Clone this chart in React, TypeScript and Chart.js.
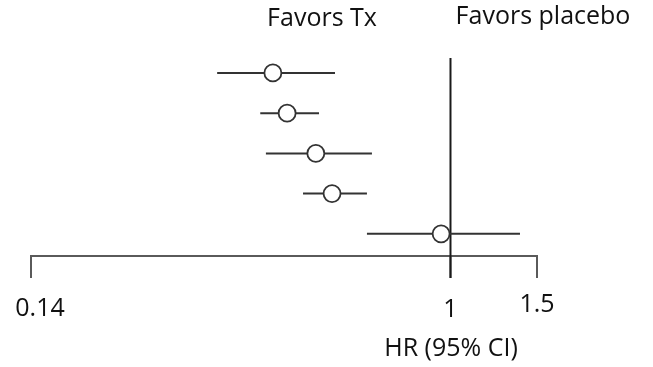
import React, { useEffect, useRef } from "react";
import { Chart, registerables } from "chart.js";

Chart.register(...registerables);

const rows = [1, 2, 3, 4, 5];
const hrEstimate = [0.435, 0.465, 0.532, 0.574, 0.957];
const ciLower = [0.335, 0.41, 0.421, 0.501, 0.676];
const ciUpper = [0.582, 0.54, 0.692, 0.676, 1.385];
const tickValues = [0.14, 1, 1.5];
const tickLabels = ["0.14", "1", "1.5"];
const axisTitle = "HR (95% CI)";
const leftHeader = "Favors Tx";
const rightHeader = "Favors placebo";
const refValue = 1;

const FONT = "'Open Sans', Lato, sans-serif";

const forestPlugin = {
  id: "forest",
  beforeDatasetsDraw(chart: any) {
    const { ctx, chartArea, scales } = chart;
    const x = scales.x;
    const y = scales.y;
    const bottom = chartArea.bottom;
    ctx.save();
    ctx.strokeStyle = "#5a5a5a";
    ctx.lineWidth = 2;
    ctx.beginPath();
    ctx.moveTo(x.getPixelForValue(tickValues[0]), bottom);
    ctx.lineTo(x.getPixelForValue(tickValues[tickValues.length - 1]), bottom);
    ctx.stroke();
    tickValues.forEach((v) => {
      const px = x.getPixelForValue(v);
      ctx.beginPath();
      ctx.moveTo(px, bottom - 1);
      ctx.lineTo(px, bottom + 22);
      ctx.stroke();
    });
    const rx = x.getPixelForValue(refValue);
    ctx.strokeStyle = "#1a1a1a";
    ctx.beginPath();
    ctx.moveTo(rx, chartArea.top);
    ctx.lineTo(rx, bottom + 22);
    ctx.stroke();
    ctx.strokeStyle = "#333";
    ctx.lineWidth = 2;
    rows.forEach((r, i) => {
      const py = y.getPixelForValue(r);
      ctx.beginPath();
      ctx.moveTo(x.getPixelForValue(ciLower[i]), py);
      ctx.lineTo(x.getPixelForValue(ciUpper[i]), py);
      ctx.stroke();
    });
    ctx.restore();
  },
  afterDraw(chart: any) {
    const { ctx, scales } = chart;
    const x = scales.x;
    ctx.save();
    ctx.fillStyle = "#111";
    ctx.textAlign = "center";
    ctx.textBaseline = "middle";
    ctx.font = `25px ${FONT}`;
    const labelY = [309, 310, 305];
    tickValues.forEach((v, i) => {
      const px = x.getPixelForValue(v);
      const off = i === 0 ? 9 : 0;
      ctx.fillText(tickLabels[i], px + off, labelY[i]);
    });
    ctx.fillText(axisTitle, 451, 349);
    ctx.fillText(leftHeader, 322, 19);
    ctx.fillText(rightHeader, 543, 17);
    ctx.restore();
  },
};

export default function App() {
  const ref = useRef<HTMLCanvasElement | null>(null);
  useEffect(() => {
    document.body.style.margin = "0";
    const canvas = ref.current!;
    const chart = new Chart(canvas, {
      type: "scatter",
      data: {
        datasets: [
          {
            data: rows.map((r, i) => ({ x: hrEstimate[i], y: r })),
            pointStyle: "circle",
            pointRadius: 8.5,
            pointBackgroundColor: "#ffffff",
            pointBorderColor: "#333333",
            pointBorderWidth: 1.8,
          },
        ],
      },
      options: {
        animation: false,
        responsive: false,
        maintainAspectRatio: false,
        layout: { padding: { left: 31, right: 116, top: 58, bottom: 111 } },
        plugins: { legend: { display: false }, tooltip: { enabled: false } },
        scales: {
          x: { type: "logarithmic", min: 0.14, max: 1.5, display: false },
          y: { type: "linear", min: 0.63, max: 5.55, reverse: true, display: false },
        },
      },
      plugins: [forestPlugin],
    });
    return () => chart.destroy();
  }, []);
  return (
    <div style={{ width: 653, height: 367, background: "#fff" }}>
      <canvas ref={ref} width={653} height={367} style={{ display: "block" }} />
    </div>
  );
}
